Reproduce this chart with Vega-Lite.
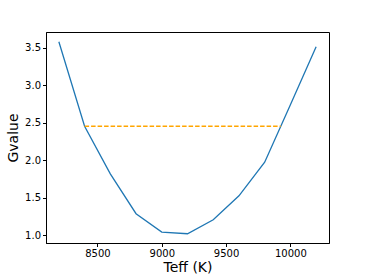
{
  "$schema": "https://vega.github.io/schema/vega-lite/v6.json",
  "width": 283,
  "height": 211,
  "autosize": {"type": "none"},
  "padding": {"left": 46, "top": 32, "right": 37, "bottom": 31},
  "background": "white",
  "config": {
    "font": "DejaVu Sans",
    "view": {"stroke": "black", "strokeWidth": 1},
    "axis": {
      "grid": false,
      "domainColor": "black",
      "tickColor": "black",
      "tickSize": 3.5,
      "labelColor": "black",
      "labelFont": "DejaVu Sans",
      "labelFontSize": 10,
      "titleFont": "DejaVu Sans",
      "titleFontSize": 14,
      "titleFontWeight": "normal",
      "titleColor": "black",
      "labelPadding": 2
    }
  },
  "datasets": {
    "curve": [
      {"Teff": 8200, "G": 3.58},
      {"Teff": 8400, "G": 2.455},
      {"Teff": 8600, "G": 1.82},
      {"Teff": 8800, "G": 1.29},
      {"Teff": 9000, "G": 1.045},
      {"Teff": 9200, "G": 1.023},
      {"Teff": 9400, "G": 1.21},
      {"Teff": 9600, "G": 1.528},
      {"Teff": 9800, "G": 1.976},
      {"Teff": 10000, "G": 2.74},
      {"Teff": 10200, "G": 3.513}
    ],
    "thresh": [
      {"x1": 8400, "x2": 9925, "G": 2.455}
    ]
  },
  "layer": [
    {
      "data": {"name": "curve"},
      "mark": {"type": "line", "color": "#1f77b4", "strokeWidth": 1.3},
      "encoding": {
        "x": {
          "field": "Teff",
          "type": "quantitative",
          "scale": {"domain": [8100, 10300], "nice": false, "zero": false},
          "axis": {"values": [8500, 9000, 9500, 10000], "format": "d", "title": "Teff (K)", "titlePadding": 2}
        },
        "y": {
          "field": "G",
          "type": "quantitative",
          "scale": {"domain": [0.9, 3.71], "nice": false, "zero": false},
          "axis": {"values": [1.0, 1.5, 2.0, 2.5, 3.0, 3.5], "format": ".1f", "title": "Gvalue", "titlePadding": 4}
        }
      }
    },
    {
      "data": {"name": "thresh"},
      "mark": {"type": "rule", "color": "#ffa500", "strokeWidth": 1.3, "strokeDash": [4.5, 2]},
      "encoding": {
        "x": {"field": "x1", "type": "quantitative"},
        "x2": {"field": "x2"},
        "y": {"field": "G", "type": "quantitative"}
      }
    }
  ]
}
